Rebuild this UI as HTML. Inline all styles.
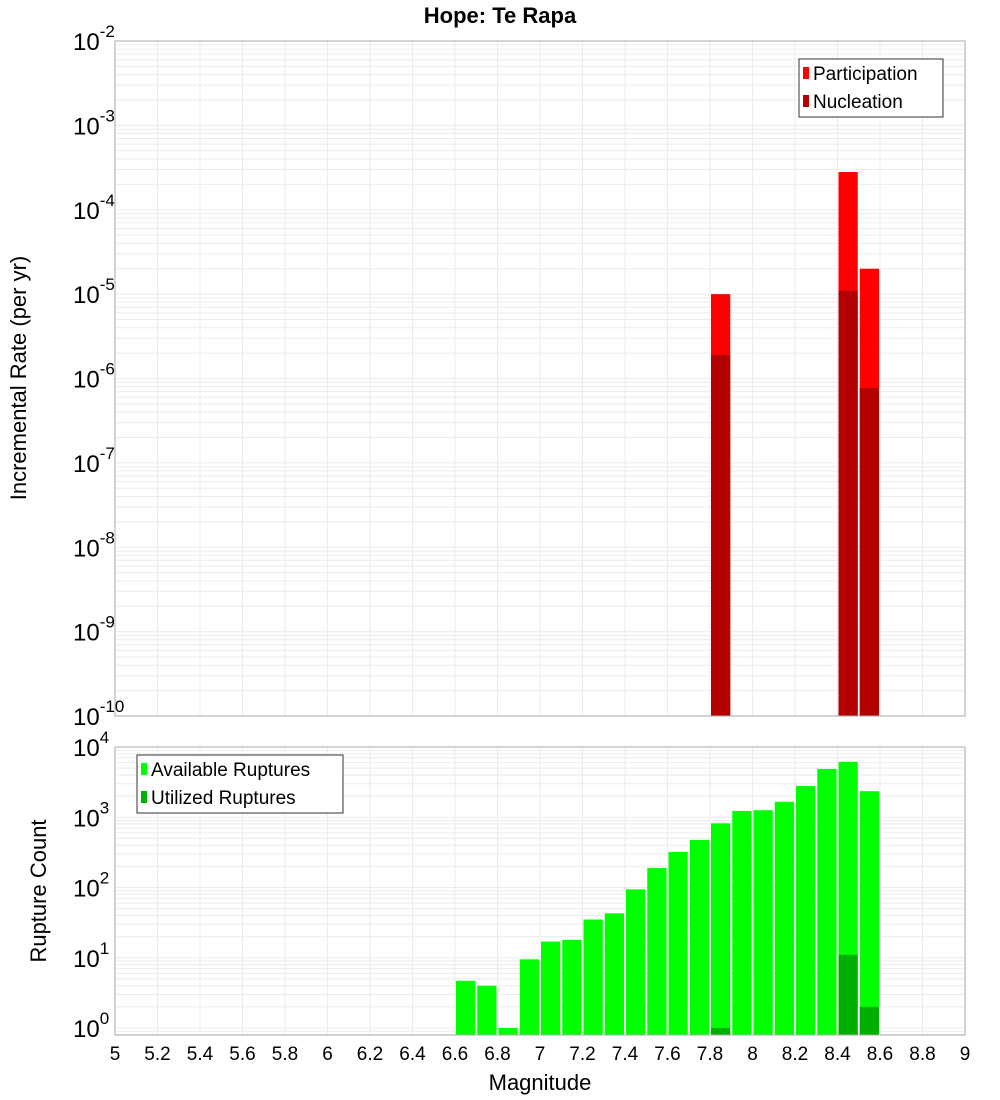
<!DOCTYPE html>
<html><head><meta charset="utf-8"><style>
body{margin:0;background:#fff;}
svg{display:block;font-family:"Liberation Sans","DejaVu Sans",sans-serif;}
</style></head><body>
<svg id="c" width="1000" height="1100" viewBox="0 0 1000 1100"></svg>
<script>
const magCenters=[6.65,6.75,6.85,6.95,7.05,7.15,7.25,7.35,7.45,7.55,7.65,7.75,7.85,7.95,8.05,8.15,8.25,8.35,8.45,8.55];
const availCounts=[4.7,4.0,1,9.5,17,18,35,43,94,190,320,475,820,1230,1260,1660,2780,4870,6150,2350];
const usedMags=[7.85,8.45,8.55];
const usedCounts=[1,11,2];
const rateMags=[7.85,8.45,8.55];
const participation=[1.0e-5,2.8e-4,2.0e-5];
const nucleation=[1.9e-6,1.1e-5,7.7e-7];
const xTicks=[5,5.2,5.4,5.6,5.8,6,6.2,6.4,6.6,6.8,7,7.2,7.4,7.6,7.8,8,8.2,8.4,8.6,8.8,9];
const topExps=[-10,-9,-8,-7,-6,-5,-4,-3,-2];
const botExps=[0,1,2,3,4];

const svg=document.getElementById('c');
const NS='http://www.w3.org/2000/svg';
function mk(tag,at,parent){const e=document.createElementNS(NS,tag);for(const k in at)e.setAttribute(k,at[k]);(parent||svg).appendChild(e);return e;}
const X0=115,X1=965;
const xs=m=>X0+(m-5)/4*(X1-X0);
const T0=41,T1=716;
const yTop=v=>T1-(Math.log10(v)+10)/8*(T1-T0);
const B0=747,B1=1035,BZ=1028,BD=(BZ-B0)/4;
const yBot=v=>BZ-Math.log10(v)*BD;

function grid(y0,y1,yf,emin,emax,name){
  const g=mk('g',{});  
  for(let e=emin;e<emax;e++)for(let k=1;k<10;k++){const y=yf(k*Math.pow(10,e));if(y<y0-0.5||y>y1+0.5)continue;
    mk('line',{x1:X0,x2:X1,y1:y,y2:y,stroke:'#ebebeb','stroke-width':1},g);}
  xTicks.forEach(t=>mk('line',{x1:xs(t),x2:xs(t),y1:y0,y2:y1,stroke:'#ebebeb','stroke-width':1},g));
}
grid(T0,T1,yTop,-10,-2,'top-grid');
grid(B0,B1,yBot,-1,4,'bottom-grid');

// top bars
const tb=mk('g',{});  
rateMags.forEach((m,i)=>{
  const x=xs(m-0.05)+1,w=xs(m+0.05)-xs(m-0.05)-2;
  const p=mk('rect',{x:x,y:yTop(participation[i]),width:w,height:T1-yTop(participation[i]),fill:'#ff0000'},tb);
   
  const n=mk('rect',{x:x,y:yTop(nucleation[i]),width:w,height:T1-yTop(nucleation[i]),fill:'#b30000'},tb);
   
});
// bottom bars
const bb=mk('g',{});  
magCenters.forEach((m,i)=>{
  const x=xs(m-0.05)+1,w=xs(m+0.05)-xs(m-0.05)-2;const y=yBot(availCounts[i]);
  const r=mk('rect',{x:x,y:y,width:w,height:B1-y,fill:'#00ff00'},bb);
   
});
usedMags.forEach((m,i)=>{
  const x=xs(m-0.05)+1,w=xs(m+0.05)-xs(m-0.05)-2;const y=yBot(usedCounts[i]);
  const r=mk('rect',{x:x,y:y,width:w,height:B1-y,fill:'#00b000'},bb);
   
});
// frames
const f1=mk('rect',{x:X0,y:T0,width:X1-X0,height:T1-T0,fill:'none',stroke:'#aaa'});
 
const f2=mk('rect',{x:X0,y:B0,width:X1-X0,height:B1-B0,fill:'none',stroke:'#aaa'});
 

function ylab(y,e,name){
  const t=mk('text',{x:73,y:y+9,'font-size':24,fill:'#000'});
   
  t.textContent='10';
  const s=mk('tspan',{dy:-13,'font-size':17},t); s.textContent=String(e);
}
topExps.forEach(e=>ylab(yTop(Math.pow(10,e)),e,'top-y-tick'));
botExps.forEach(e=>ylab(yBot(Math.pow(10,e)),e,'bottom-y-tick'));
xTicks.forEach(t=>{const el=mk('text',{x:xs(t),y:1060,'font-size':19,'text-anchor':'middle'});
    el.textContent=String(t);});

function txt(s,at,name){const e=mk('text',at);e.textContent=s;return e;}
txt('Hope: Te Rapa',{x:500,y:23,'font-size':22,'font-weight':'bold','text-anchor':'middle'},'chart-title');
txt('Magnitude',{x:540,y:1090,'font-size':22,'text-anchor':'middle'},'x-axis-title');
txt('Incremental Rate (per yr)',{x:26,y:378,'font-size':22,'text-anchor':'middle',transform:'rotate(-90 26 378)'},'top-y-axis-title');
txt('Rupture Count',{x:46,y:891,'font-size':22,'text-anchor':'middle',transform:'rotate(-90 46 891)'},'bottom-y-axis-title');

function legend(x,y,w,h,items,name){
  const g=mk('g',{});
  mk('rect',{x:x,y:y,width:w,height:h,fill:'#fff',stroke:'#333'},g);
  items.forEach((it,i)=>{const cy=y+14+i*28;
    mk('rect',{x:x+4,y:cy-6,width:6,height:12,fill:it[1]},g);
    const t=mk('text',{x:x+14,y:cy+7,'font-size':19},g);t.textContent=it[0];});
}
legend(799,59,144,58,[['Participation','#ff0000'],['Nucleation','#b30000']],'top-legend');
legend(137,755,206,58,[['Available Ruptures','#00ff00'],['Utilized Ruptures','#00b000']],'bottom-legend');
</script>
</body></html>
